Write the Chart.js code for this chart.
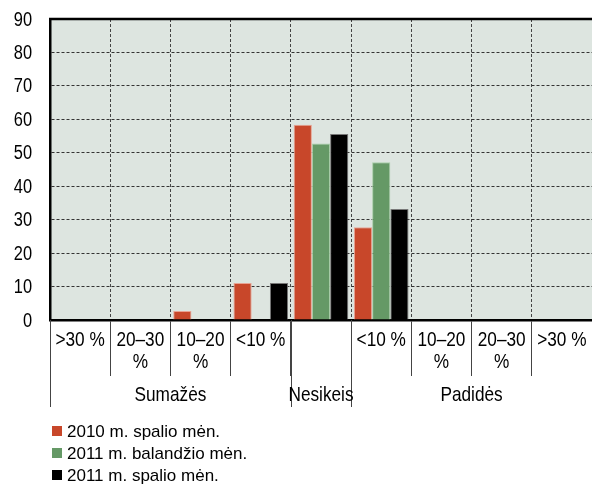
<!DOCTYPE html>
<html>
<head>
<meta charset="utf-8">
<script src="https://cdn.jsdelivr.net/npm/chart.js@4"></script>
<style>
html,body{margin:0;padding:0;background:#fff;}
canvas{display:block;}
</style>
</head>
<body>
<canvas id="c" width="592" height="488"></canvas>
<script>
const categories = ['>30 %', ['20–30', '%'], ['10–20', '%'], '<10 %', '', '<10 %', ['10–20', '%'], ['20–30', '%'], '>30 %'];
const groups = [
  { label: 'Sumažės', from: 0, to: 3 },
  { label: 'Nesikeis', from: 4, to: 4 },
  { label: 'Padidės', from: 5, to: 8 }
];
const seriesNames = ['2010 m. spalio mėn.', '2011 m. balandžio mėn.', '2011 m. spalio mėn.'];
const oct2010 = [0, 0, 2.7, 11.1, 58.4, 27.7, 0, 0, 0];
const apr2011 = [0, 0, 0, 0, 52.8, 47.2, 0, 0, 0];
const oct2011 = [0, 0, 0, 11.1, 55.6, 33.2, 0, 0, 0];
const yTicks = [0, 10, 20, 30, 40, 50, 60, 70, 80, 90];

const fillColors = ['#c8472a', '#659966', '#000000'];
const edgeColors = ['#e8a393', '#a9cfa9', '#777777'];
const FONT = '"Liberation Sans", Arial, sans-serif';
const SQUEEZE = 0.82; // narrow typeface look

function narrowText(ctx, text, x, y, align) {
  ctx.save();
  ctx.translate(x, y);
  ctx.scale(SQUEEZE, 1);
  ctx.textAlign = align;
  ctx.fillText(text, 0, 0);
  ctx.restore();
}

const decor = {
  id: 'decor',
  beforeDraw(chart) {
    const { ctx, chartArea: a } = chart;
    ctx.save();
    ctx.fillStyle = '#dde5e0';
    ctx.fillRect(a.left, a.top, a.right - a.left, a.bottom - a.top);
    ctx.restore();
  },
  afterDraw(chart) {
    const { ctx, chartArea: a } = chart;
    const xs = chart.scales.x;
    const ys = chart.scales.y;
    const step = xs.getPixelForValue(1) - xs.getPixelForValue(0);
    const edge = i => xs.getPixelForValue(i) - step / 2;
    ctx.save();
    // top border
    ctx.strokeStyle = '#000';
    ctx.lineWidth = 2.5;
    ctx.beginPath();
    ctx.moveTo(a.left - 1, a.top);
    ctx.lineTo(a.right + 2, a.top);
    ctx.stroke();
    // long group separators
    ctx.strokeStyle = '#444';
    ctx.lineWidth = 1;
    const bounds = new Set();
    groups.forEach(g => { bounds.add(g.from); bounds.add(g.to + 1); });
    bounds.forEach(i => {
      const x = Math.round(edge(i)) + 0.5;
      ctx.beginPath();
      ctx.moveTo(x, a.bottom);
      ctx.lineTo(x, 407);
      ctx.stroke();
    });
    ctx.fillStyle = '#000';
    ctx.textBaseline = 'middle';
    // y tick labels
    ctx.font = '20px ' + FONT;
    ys.ticks.forEach(t => {
      narrowText(ctx, String(t.value), 32, ys.getPixelForValue(t.value) + 1, 'right');
    });
    // x tick labels
    ctx.font = '21px ' + FONT;
    categories.forEach((lab, i) => {
      const lines = Array.isArray(lab) ? lab : [lab];
      const cx = xs.getPixelForValue(i);
      lines.forEach((ln, k) => narrowText(ctx, ln, cx, 340 + 22 * k, 'center'));
    });
    // group labels
    groups.forEach(g => {
      const cx = (edge(g.from) + edge(g.to + 1)) / 2;
      narrowText(ctx, g.label, cx, 395, 'center');
    });
    // legend
    ctx.font = '17px ' + FONT;
    ctx.textAlign = 'left';
    chart.data.datasets.forEach((ds, i) => {
      const cy = 431 + 22 * i;
      ctx.fillStyle = ds.backgroundColor;
      ctx.fillRect(52, cy - 5, 10, 10);
      ctx.fillStyle = '#000';
      ctx.fillText(ds.label, 67, cy + 1);
    });
    ctx.restore();
  }
};

new Chart(document.getElementById('c'), {
  type: 'bar',
  data: {
    labels: categories,
    datasets: [oct2010, apr2011, oct2011].map((d, i) => ({
      label: seriesNames[i],
      data: d,
      backgroundColor: fillColors[i],
      borderColor: edgeColors[i],
      borderWidth: 1,
      categoryPercentage: 0.907,
      barPercentage: 1
    }))
  },
  options: {
    responsive: false,
    devicePixelRatio: 1,
    animation: false,
    layout: { padding: { top: 19, left: 0, right: -3, bottom: 0 } },
    plugins: { legend: { display: false }, tooltip: { enabled: false } },
    scales: {
      x: {
        offset: true,
        grid: {
          offset: true,
          color: '#444',
          lineWidth: 1,
          drawTicks: true,
          tickLength: 56,
          tickColor: '#444',
          tickBorderDash: []
        },
        border: { display: true, color: '#000', width: 2.5, dash: [3, 2] },
        ticks: { display: false, autoSkip: false, maxRotation: 0 },
        afterFit(scale) { scale.height = 168; }
      },
      y: {
        min: 0,
        max: 90,
        afterBuildTicks(scale) { scale.ticks = yTicks.map(v => ({ value: v })); },
        grid: { color: '#333', lineWidth: 1, drawTicks: false },
        border: { display: true, color: '#000', width: 2.5, dash: [3, 2] },
        ticks: { display: false },
        afterFit(scale) { scale.width = 50; }
      }
    }
  },
  plugins: [decor]
});
</script>
</body>
</html>
